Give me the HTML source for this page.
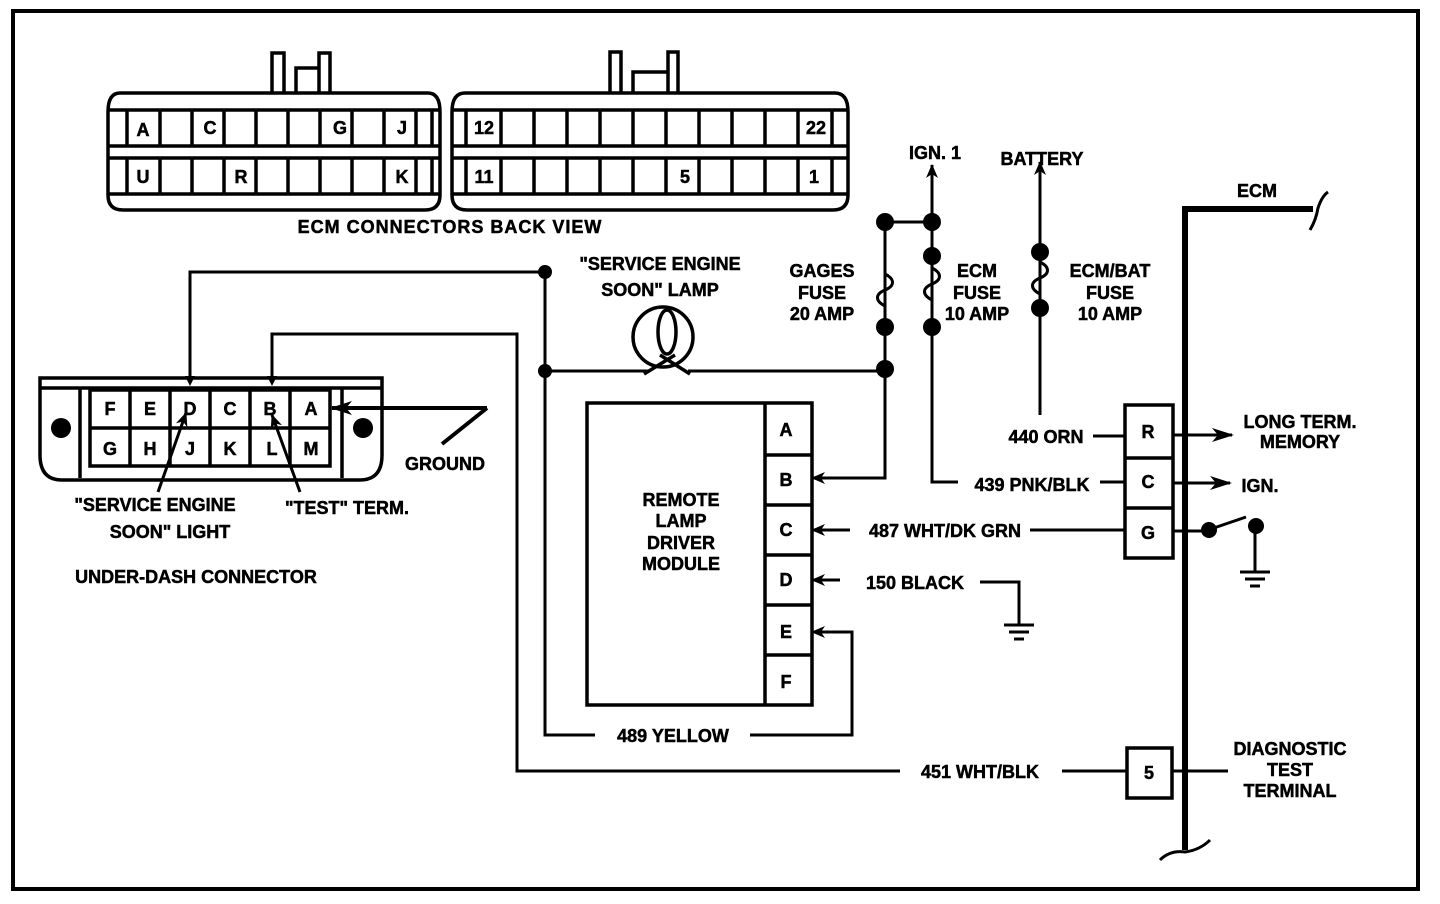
<!DOCTYPE html>
<html><head><meta charset="utf-8"><style>
html,body{margin:0;padding:0;background:#fff;}
svg{display:block;}
text{font-family:"Liberation Sans",sans-serif;font-weight:bold;font-size:18px;fill:#000;stroke:#000;stroke-width:0.5px;}
.s{font-size:17px;}
</style></head><body>
<svg width="1440" height="904" viewBox="0 0 1440 904" xmlns="http://www.w3.org/2000/svg">
<defs>
<marker id="ar" markerWidth="14" markerHeight="12" refX="13" refY="6" orient="auto" markerUnits="userSpaceOnUse"><path d="M0,0 L14,6 L0,12 L4,6 Z" fill="#000"/></marker>
<marker id="ar2" markerWidth="22" markerHeight="14" refX="20" refY="7" orient="auto" markerUnits="userSpaceOnUse"><path d="M0,0 L22,7 L0,14 L6,7 Z" fill="#000"/></marker>
</defs>
<rect x="13" y="11" width="1405" height="878" fill="none" stroke="#000" stroke-width="4"/>
<g stroke="#000" fill="none" stroke-width="3.5">
<path d="M272,94 V53 H284 V94 M296,94 V68 H319 V94 M319,94 V53 H330 V94"/>
<path d="M120,93 H428 Q440,93 440,112 V195 Q440,210 425,210 H123 Q108,210 108,195 V112 Q108,93 120,93 Z"/>
<path d="M108,110 H440 M108,146 H440 M108,158 H440 M108,194 H440"/>
<path d="M127,110V146 M160,110V146 M192,110V146 M224,110V146 M256,110V146 M288,110V146 M320,110V146 M352,110V146 M384,110V146 M416,110V146 M432,110V146"/>
<path d="M127,158V194 M160,158V194 M192,158V194 M224,158V194 M256,158V194 M288,158V194 M320,158V194 M352,158V194 M384,158V194 M416,158V194 M432,158V194"/>
<path d="M610,94 V52 H621 V94 M633,94 V72 H668 V94 M668,94 V52 H678 V94"/>
<path d="M465,93 H835 Q848,93 848,112 V195 Q848,210 833,210 H467 Q452,210 452,195 V112 Q452,93 465,93 Z"/>
<path d="M452,110 H848 M452,146 H848 M452,158 H848 M452,194 H848"/>
<path d="M466,110V146 M501,110V146 M534,110V146 M567,110V146 M600,110V146 M633,110V146 M666,110V146 M699,110V146 M732,110V146 M765,110V146 M798,110V146 M832,110V146"/>
<path d="M466,158V194 M501,158V194 M534,158V194 M567,158V194 M600,158V194 M633,158V194 M666,158V194 M699,158V194 M732,158V194 M765,158V194 M798,158V194 M832,158V194"/>
<path d="M40,378 H382 V455 Q382,480 360,480 H62 Q40,480 40,455 Z"/>
<path d="M40,388 H382 M80,388 V478 M342,388 V478"/>
<rect x="90" y="390" width="240" height="76"/>
<path d="M90,428 H330 M130,390V466 M170,390V466 M210,390V466 M250,390V466 M290,390V466"/>
</g>
<circle cx="61" cy="428" r="10"/><circle cx="363" cy="428" r="10"/>
<g class="s">
<text x="143" y="136" text-anchor="middle">A</text><text x="210" y="134" text-anchor="middle">C</text><text x="340" y="134" text-anchor="middle">G</text><text x="402" y="134" text-anchor="middle">J</text>
<text x="143" y="183" text-anchor="middle">U</text><text x="241" y="183" text-anchor="middle">R</text><text x="402" y="183" text-anchor="middle">K</text>
<text x="484" y="134" text-anchor="middle">12</text><text x="816" y="134" text-anchor="middle">22</text>
<text x="484" y="183" text-anchor="middle">11</text><text x="685" y="183" text-anchor="middle">5</text><text x="814" y="183" text-anchor="middle">1</text>
<text x="110" y="415" text-anchor="middle">F</text><text x="150" y="415" text-anchor="middle">E</text><text x="190" y="415" text-anchor="middle">D</text><text x="230" y="415" text-anchor="middle">C</text><text x="270" y="415" text-anchor="middle">B</text><text x="311" y="415" text-anchor="middle">A</text>
<text x="110" y="455" text-anchor="middle">G</text><text x="150" y="455" text-anchor="middle">H</text><text x="190" y="455" text-anchor="middle">J</text><text x="230" y="455" text-anchor="middle">K</text><text x="272" y="455" text-anchor="middle">L</text><text x="311" y="455" text-anchor="middle">M</text>
</g>
<text x="450" y="233" text-anchor="middle" letter-spacing="1">ECM CONNECTORS BACK VIEW</text>
<g stroke="#000" fill="none" stroke-width="3">
<path d="M190,380 V272 H545 V735 H595"/>
<path d="M272,380 V334 H517 V771 H900"/>
<path d="M750,735 H852 V632 H812" marker-end="url(#ar)"/>
<path d="M1062,771 H1127 M1172,771 H1228"/>
<path d="M545,371 H648 M688,371 H885 V224"/>
<path d="M885,222 H932 V165" marker-end="url(#ar)"/>
<path d="M885,371 V478 H812" marker-end="url(#ar)"/>
<path d="M932,222 V482 H958 M1100,482 H1125"/>
<path d="M1040,415 V162" marker-end="url(#ar)"/>
<path d="M1093,436 H1125"/>
<path d="M1172,435 H1232" marker-end="url(#ar2)"/>
<path d="M1172,483 H1230" marker-end="url(#ar2)"/>
<path d="M1172,531 H1205 L1246,517"/>
<path d="M1255,528 V572 M1240,572 H1270 M1245,579 H1265 M1250,586 H1260"/>
<path d="M850,530 H812" marker-end="url(#ar)"/>
<path d="M1030,530 H1125"/>
<path d="M840,580 H812" marker-end="url(#ar)"/>
<path d="M980,582 H1019 V625 M1004,625 H1034 M1009,632 H1029 M1014,639 H1024"/>
<path d="M487,408 L442,444 M487,408 H332" stroke-width="4" marker-end="url(#ar2)"/>
<path d="M158,492 L186,413" marker-end="url(#ar)"/>
<path d="M300,492 L272,415" marker-end="url(#ar)"/>
</g>
<path d="M185,376 L195,376 L190,386Z"/><path d="M267,376 L277,376 L272,386Z"/>
<g stroke="#000" fill="none" stroke-width="3">
<path d="M885,274 c10,5 10,12 0,16 c-10,4 -10,11 0,16"/>
<path d="M932,268 c10,5 10,12 0,16 c-10,4 -10,11 0,16"/>
<path d="M1040,262 c10,5 10,12 0,16 c-10,4 -10,11 0,16"/>
</g>
<g fill="#000">
<circle cx="545" cy="272" r="7"/><circle cx="545" cy="371" r="7"/>
<circle cx="885" cy="222" r="9"/><circle cx="932" cy="222" r="9"/><circle cx="932" cy="256" r="9"/><circle cx="932" cy="327" r="9"/>
<circle cx="885" cy="327" r="9"/><circle cx="885" cy="369" r="9"/>
<circle cx="1040" cy="252" r="9"/><circle cx="1040" cy="308" r="9"/>
<circle cx="1209" cy="530" r="8"/><circle cx="1256" cy="526" r="8"/>
</g>
<g stroke="#000" fill="none" stroke-width="3.5">
<circle cx="663" cy="337" r="30"/>
<ellipse cx="667" cy="332" rx="9" ry="22"/>
<path d="M644,374 L675,355 M690,374 L660,355"/>
</g>
<g stroke="#000" fill="none" stroke-width="3.5">
<rect x="587" y="403" width="225" height="302"/>
<path d="M765,403 V705 M765,455 H812 M765,505 H812 M765,555 H812 M765,605 H812 M765,655 H812"/>
<rect x="1125" y="405" width="48" height="153"/>
<path d="M1125,458 H1173 M1125,508 H1173"/>
<rect x="1127" y="748" width="45" height="50"/>
</g>
<path d="M1185,850 V209 H1313" stroke="#000" stroke-width="6" fill="none"/>
<path d="M1310,230 Q1316,220 1318,208 Q1322,196 1328,192" stroke="#000" stroke-width="3" fill="none"/>
<path d="M1160,860 Q1170,850 1185,852 Q1200,850 1210,840" stroke="#000" stroke-width="3" fill="none"/>
<g class="s">
<text x="786" y="436" text-anchor="middle">A</text><text x="786" y="486" text-anchor="middle">B</text><text x="786" y="536" text-anchor="middle">C</text><text x="786" y="586" text-anchor="middle">D</text><text x="786" y="638" text-anchor="middle">E</text><text x="786" y="688" text-anchor="middle">F</text>
<text x="1148" y="438" text-anchor="middle">R</text><text x="1148" y="488" text-anchor="middle">C</text><text x="1148" y="539" text-anchor="middle">G</text><text x="1149" y="779" text-anchor="middle">5</text>
</g>
<g text-anchor="middle">
<text x="681" y="506">REMOTE</text><text x="681" y="527">LAMP</text><text x="681" y="549">DRIVER</text><text x="681" y="570">MODULE</text>
<text x="660" y="270">"SERVICE ENGINE</text><text x="660" y="296">SOON" LAMP</text>
<text x="822" y="277">GAGES</text><text x="822" y="299">FUSE</text><text x="822" y="320">20 AMP</text>
<text x="977" y="277">ECM</text><text x="977" y="299">FUSE</text><text x="977" y="320">10 AMP</text>
<text x="1110" y="277">ECM/BAT</text><text x="1110" y="299">FUSE</text><text x="1110" y="320">10 AMP</text>
<text x="935" y="159">IGN. 1</text><text x="1042" y="165">BATTERY</text><text x="1257" y="197">ECM</text>
<text x="1300" y="428">LONG TERM.</text><text x="1300" y="448">MEMORY</text>
<text x="1260" y="492">IGN.</text>
<text x="1046" y="443">440 ORN</text><text x="1032" y="491">439 PNK/BLK</text>
<text x="945" y="537">487 WHT/DK GRN</text><text x="915" y="589">150 BLACK</text>
<text x="673" y="742">489 YELLOW</text><text x="980" y="778">451 WHT/BLK</text>
<text x="1290" y="755">DIAGNOSTIC</text><text x="1290" y="776">TEST</text><text x="1290" y="797">TERMINAL</text>
<text x="445" y="470">GROUND</text>
<text x="155" y="511">"SERVICE ENGINE</text><text x="170" y="538">SOON" LIGHT</text>
<text x="347" y="514">"TEST" TERM.</text>
<text x="196" y="583">UNDER-DASH CONNECTOR</text>
</g>
</svg>
</body></html>
